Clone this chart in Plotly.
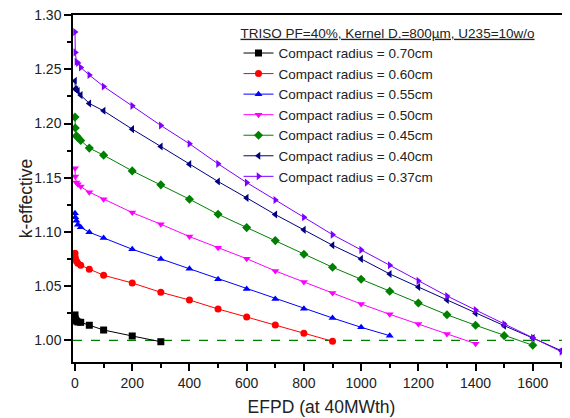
import plotly.graph_objects as go

# burnup steps (EFPD)
steps_early = [0, 1, 5, 10, 20, 50, 100]

efpd_070 = steps_early + [200, 300]
keff_070 = [1.0234, 1.0197, 1.0178, 1.0169, 1.0166, 1.0139, 1.0095, 1.0040, 0.9987]

efpd_060 = steps_early + [200, 300, 400, 500, 600, 700, 800, 900]
keff_060 = [1.0803, 1.0766, 1.0732, 1.0711, 1.0692, 1.0656, 1.0600, 1.0529, 1.0443,
            1.0372, 1.0289, 1.0215, 1.0141, 1.0065, 0.9991]

efpd_055 = steps_early + [200, 300, 400, 500, 600, 700, 800, 900, 1000, 1100]
keff_055 = [1.1173, 1.1136, 1.1104, 1.1067, 1.1043, 1.0997, 1.0945, 1.0840, 1.0751,
            1.0660, 1.0563, 1.0474, 1.0381, 1.0292, 1.0206, 1.0120, 1.0043]

efpd_050 = steps_early + [200, 300, 400, 500, 600, 700, 800, 900, 1000, 1100, 1200,
                          1300, 1400]
keff_050 = [1.1588, 1.1511, 1.1455, 1.1440, 1.1418, 1.1367, 1.1302, 1.1178, 1.1071,
            1.0957, 1.0855, 1.0753, 1.0640, 1.0538, 1.0437, 1.0335, 1.0240, 1.0150,
            1.0058, 0.9969]

efpd_045 = steps_early + [200, 300, 400, 500, 600, 700, 800, 900, 1000, 1100, 1200,
                          1300, 1400, 1500, 1600]
keff_045 = [1.2059, 1.1958, 1.1886, 1.1871, 1.1843, 1.1773, 1.1708, 1.1563, 1.1434,
            1.1302, 1.1163, 1.1040, 1.0920, 1.0794, 1.0674, 1.0563, 1.0452, 1.0344,
            1.0236, 1.0139, 1.0043, 0.9954]

efpd_040 = steps_early + [200, 300, 400, 500, 600, 700, 800, 900, 1000, 1100, 1200,
                          1300, 1400, 1500, 1600, 1700]
keff_040 = [1.2394, 1.2318, 1.2311, 1.2300, 1.2262, 1.2185, 1.2117, 1.1948, 1.1788,
            1.1625, 1.1465, 1.1314, 1.1160, 1.1019, 1.0877, 1.0751, 1.0612, 1.0492,
            1.0372, 1.0249, 1.0135, 1.0021, 0.9904]

efpd_037 = list(efpd_040)
keff_037 = [1.2844, 1.2656, 1.2570, 1.2558, 1.2517, 1.2447, 1.2342, 1.2163, 1.1982,
            1.1813, 1.1628, 1.1455, 1.1295, 1.1136, 1.0975, 1.0834, 1.0692, 1.0548,
            1.0409, 1.0280, 1.0151, 1.0024, 0.9895]

series = [
    ("Compact radius = 0.70cm", efpd_070, keff_070, "black", "square"),
    ("Compact radius = 0.60cm", efpd_060, keff_060, "#ff0000", "circle"),
    ("Compact radius = 0.55cm", efpd_055, keff_055, "#0000ff", "triangle-up"),
    ("Compact radius = 0.50cm", efpd_050, keff_050, "#ff00ff", "triangle-down"),
    ("Compact radius = 0.45cm", efpd_045, keff_045, "#008000", "diamond"),
    ("Compact radius = 0.40cm", efpd_040, keff_040, "#000080", "triangle-left"),
    ("Compact radius = 0.37cm", efpd_037, keff_037, "#8000ff", "triangle-right"),
]

CRITICAL = 1.0
X_RANGE = [-7, 1730]
Y_RANGE = [0.98, 1.3001]

fig = go.Figure()

# critical line
fig.add_trace(
    go.Scatter(
        x=X_RANGE, y=[CRITICAL, CRITICAL], mode="lines",
        line=dict(color="#008000", width=1.3, dash="dash"),
        showlegend=False, hoverinfo="skip",
    )
)

for name, xs, ys, colour, symbol in series:
    fig.add_trace(
        go.Scatter(
            x=xs, y=ys, name=name, mode="lines+markers",
            line=dict(color=colour, width=1),
            marker=dict(color=colour, symbol=symbol, size=7, line=dict(width=0)),
        )
    )

FONT = "Liberation Sans, Arial, sans-serif"
TEXT = "#222"

fig.update_xaxes(
    range=X_RANGE, dtick=200, tick0=0, automargin=False,
    ticks="outside", ticklen=7, tickwidth=1.5, tickcolor="black",
    minor=dict(dtick=100, ticks="outside", ticklen=4, tickcolor="black", tickwidth=1.5),
    showline=True, linecolor="black", linewidth=1.5, mirror=True,
    showgrid=False, zeroline=False,
    tickfont=dict(family=FONT, size=14, color=TEXT),
    title=dict(text="EFPD (at 40MWth)", font=dict(family=FONT, size=17.5, color=TEXT),
               standoff=11),
)
fig.update_yaxes(
    range=Y_RANGE, dtick=0.05, tick0=1.0, tickformat=".2f", automargin=False,
    ticklabeloverflow="allow",
    ticks="outside", ticklen=7, tickwidth=1.5, tickcolor="black",
    minor=dict(dtick=0.025, ticks="outside", ticklen=4, tickcolor="black", tickwidth=1.5),
    showline=True, linecolor="black", linewidth=1.5,
    showgrid=False, zeroline=False,
    tickfont=dict(family=FONT, size=14, color=TEXT),
)

# y title as annotation so it can sit close to the tick labels
fig.add_annotation(
    text="k-effective", xref="paper", yref="paper", x=-0.094, y=0.47,
    xanchor="center", yanchor="middle", textangle=-90, showarrow=False,
    font=dict(family=FONT, size=17.5, color=TEXT),
)

# the page body adds an 8px offset, so the figure is sized to fit inside it
fig.update_layout(
    width=562, height=410,
    margin=dict(l=65, r=0, t=7, b=56),
    plot_bgcolor="white", paper_bgcolor="white",
    legend=dict(
        title=dict(text="<u>TRISO PF=40%, Kernel D.=800\u00b5m, U235=10w/o</u>",
                   font=dict(family=FONT, size=13.5, color=TEXT)),
        font=dict(family=FONT, size=13.5, color=TEXT),
        x=0.333, y=0.985, xanchor="left", yanchor="top",
        bgcolor="rgba(0,0,0,0)", tracegroupgap=0, itemwidth=30,
    ),
)

fig.write_html("out.html")
